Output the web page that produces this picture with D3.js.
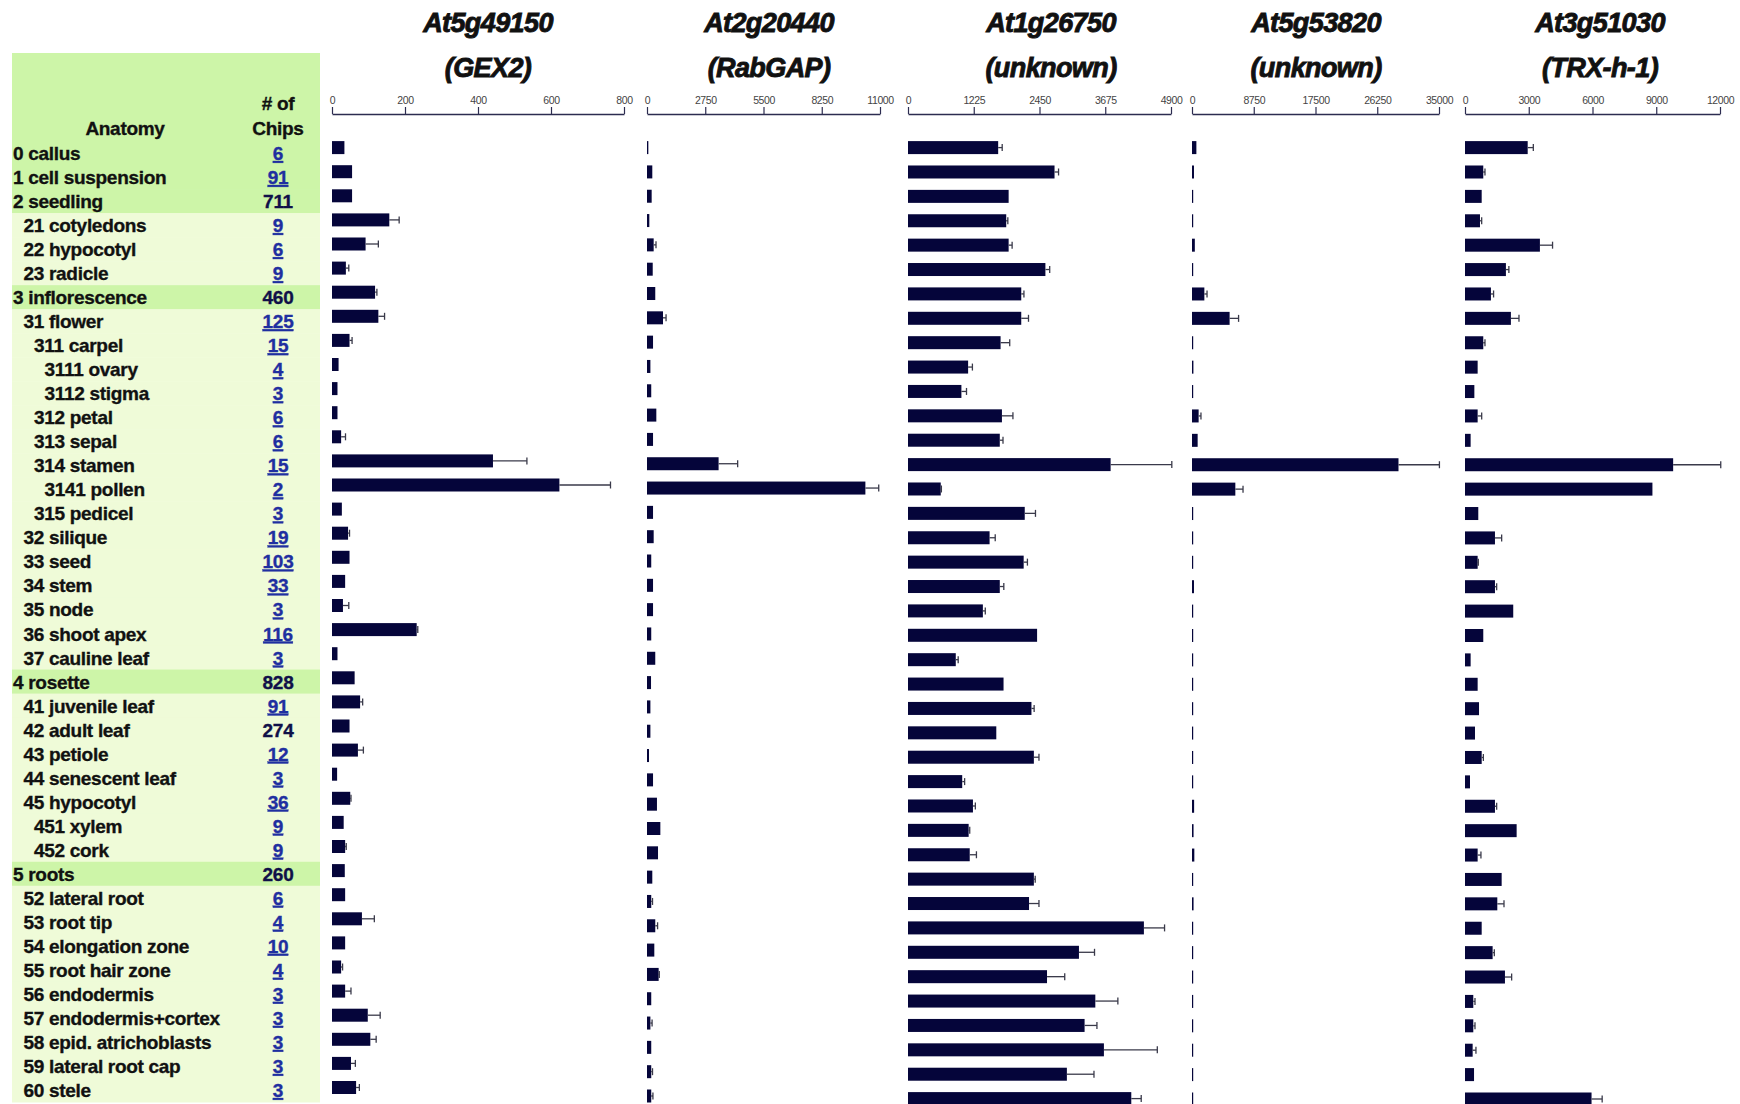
<!DOCTYPE html>
<html>
<head>
<meta charset="utf-8">
<script src="https://cdn.jsdelivr.net/npm/d3@7"></script>
<style>
  html, body { margin: 0; padding: 0; background: #fff; }
  svg { display: block; }
</style>
</head>
<body>
<svg id="chart" width="1740" height="1104"></svg>
<script>
// ---------- data ----------
const anatomy = ["0 callus","1 cell suspension","2 seedling","21 cotyledons","22 hypocotyl","23 radicle",
  "3 inflorescence","31 flower","311 carpel","3111 ovary","3112 stigma","312 petal","313 sepal","314 stamen",
  "3141 pollen","315 pedicel","32 silique","33 seed","34 stem","35 node","36 shoot apex","37 cauline leaf",
  "4 rosette","41 juvenile leaf","42 adult leaf","43 petiole","44 senescent leaf","45 hypocotyl","451 xylem",
  "452 cork","5 roots","52 lateral root","53 root tip","54 elongation zone","55 root hair zone","56 endodermis",
  "57 endodermis+cortex","58 epid. atrichoblasts","59 lateral root cap","60 stele"];
const levels = [0,0,0,1,1,1,0,1,2,3,3,2,2,2,3,2,1,1,1,1,1,1,0,1,1,1,1,1,2,2,0,1,1,1,1,1,1,1,1,1];
const chips = ["6","91","711","9","6","9","460","125","15","4","3","6","6","15","2","3","19","103","33","3",
  "116","3","828","91","274","12","3","36","9","9","260","6","4","10","4","3","3","3","3","3"];
const unlinkedChips = ["711","460","828","274","260"];

const geneIds = ["At5g49150","At2g20440","At1g26750","At5g53820","At3g51030"];
const geneNames = ["(GEX2)","(RabGAP)","(unknown)","(unknown)","(TRX-h-1)"];
const axisMax = [800, 11000, 4900, 35000, 12000];

const gex2 = [34,55,55,157,92,38,118,127,48,18,15,15,25,441,623,27,44,48,36,30,232,15,62,77,48,71,14,50,32,36,35,36,82,36,25,36,98,105,52,66];
const gex2Sd = [0,0,0,27,35,8,5,17,7,0,0,0,12,93,140,0,4,0,0,16,3,0,0,7,0,15,0,2,0,3,0,0,34,0,4,16,34,16,12,9];
const rabgap = [63,250,220,110,315,270,390,755,285,160,200,440,285,3380,10310,285,315,200,285,285,200,390,190,160,160,95,285,470,630,520,250,200,390,345,550,200,160,200,200,200];
const rabgapSd = [0,0,0,0,110,0,0,145,0,0,0,0,0,900,630,0,0,0,0,0,0,0,0,0,0,0,0,0,0,0,0,60,110,0,30,0,80,0,60,80];
const at1g26750 = [1680,2730,1875,1830,1875,2560,2110,2110,1725,1120,995,1750,1710,3775,610,2175,1520,2155,1710,1395,2405,890,1780,2300,1645,2345,1010,1210,1130,1150,2345,2255,4395,3185,2590,3490,3290,3650,2960,4160];
const at1g26750Sd = [75,75,0,30,65,80,50,135,170,80,95,205,60,1140,12,200,105,70,75,45,0,45,0,50,0,95,45,45,20,125,25,185,385,290,330,420,230,995,505,185];
const at5g53820 = [620,280,150,150,400,150,1750,5330,150,200,150,940,800,29260,6140,150,150,150,280,150,150,150,150,150,150,150,150,300,220,330,150,220,150,150,150,150,150,150,150,150];
const at5g53820Sd = [0,0,0,0,0,0,380,1270,0,0,0,330,0,5800,1090,0,0,0,0,0,0,0,0,0,0,0,0,0,0,0,0,0,0,0,0,0,0,0,0,0];
const trxh1 = [2950,860,785,705,3525,1925,1220,2160,860,595,440,595,265,9795,8820,625,1410,595,1410,2270,860,265,595,660,470,785,235,1410,2430,595,1725,1520,785,1300,1880,390,390,360,425,5955];
const trxh1Sd = [265,80,0,80,595,140,125,380,80,0,0,190,0,2240,0,0,315,30,80,0,0,0,0,0,0,80,0,80,0,155,0,315,0,80,315,80,80,155,0,500];

const seriesValues = [gex2, rabgap, at1g26750, at5g53820, trxh1];
const seriesSd = [gex2Sd, rabgapSd, at1g26750Sd, at5g53820Sd, trxh1Sd];

// ---------- layout ----------
const panelX = [[332,624],[647,880],[908,1171],[1192,1439],[1465,1720]];
const panelY = [[147.6,1087.5],[147.6,1096],[147.6,1098.6],[147.6,1099],[147.6,1099]];
const titleX = [488,769,1051,1316,1600];
const axisY = 114;
const barH = 13;
const barColor = "#05053a";
const errColor = "#3a3a4a";
const greenStrong = "#cdf5a8";
const greenPale = "#effbd8";

const svg = d3.select("#chart");
const font = "'Liberation Sans', Arial, sans-serif";

// ---------- table ----------
const tableX0 = 12, tableX1 = 320;
const rowY = d3.scalePoint().domain(d3.range(anatomy.length)).range([153, 1090]);
const rowStep = rowY.step();

const table = svg.append("g");
table.append("rect").attr("x", tableX0).attr("y", 53).attr("width", tableX1 - tableX0)
  .attr("height", rowY(0) - rowStep/2 - 53).attr("fill", greenStrong);
table.selectAll("rect.row").data(anatomy).join("rect")
  .attr("class","row")
  .attr("x", tableX0).attr("width", tableX1 - tableX0)
  .attr("y", (d,i) => rowY(i) - rowStep/2)
  .attr("height", rowStep + 0.5)
  .attr("fill", (d,i) => levels[i] === 0 ? greenStrong : greenPale);

function boldText(sel) {
  return sel.attr("font-family", font).attr("font-weight","bold").attr("font-size",19)
    .attr("letter-spacing","-0.3").attr("stroke-width",0.35);
}

boldText(table.append("text")).attr("x", 125).attr("y", 135).attr("text-anchor","middle")
  .attr("fill","#111").attr("stroke","#111").text("Anatomy");
boldText(table.append("text")).attr("x", 278).attr("y", 110).attr("text-anchor","middle")
  .attr("fill","#111").attr("stroke","#111").text("# of");
boldText(table.append("text")).attr("x", 278).attr("y", 135).attr("text-anchor","middle")
  .attr("fill","#111").attr("stroke","#111").text("Chips");

boldText(table.selectAll("text.lab").data(anatomy).join("text"))
  .attr("class","lab")
  .attr("x", (d,i) => 13 + levels[i]*10.5)
  .attr("y", (d,i) => rowY(i) + 7)
  .attr("fill","#111").attr("stroke","#111")
  .text(d => d);

boldText(table.selectAll("text.chip").data(chips).join("text"))
  .attr("class","chip")
  .attr("x", 278)
  .attr("y", (d,i) => rowY(i) + 7)
  .attr("text-anchor","middle")
  .attr("fill", d => unlinkedChips.includes(d) ? "#101048" : "#1f2fa0")
  .attr("stroke", d => unlinkedChips.includes(d) ? "#101048" : "#1f2fa0")
  .style("text-decoration", d => unlinkedChips.includes(d) ? "none" : "underline")
  .text(d => d);

// ---------- panels ----------
geneIds.forEach((gene, p) => {
  const g = svg.append("g");
  const x = d3.scaleLinear().domain([0, axisMax[p]]).range(panelX[p]);
  const y = d3.scalePoint().domain(d3.range(anatomy.length)).range(panelY[p]);
  const vals = seriesValues[p], sds = seriesSd[p];

  [[gene, 32], [geneNames[p], 77]].forEach(([txt, ty]) => {
    g.append("text").attr("x", titleX[p]).attr("y", ty).attr("text-anchor","middle")
      .attr("font-family", font).attr("font-weight","bold").attr("font-style","italic")
      .attr("font-size",27).attr("letter-spacing","-0.6")
      .attr("fill","#111").attr("stroke","#111").attr("stroke-width",0.9).text(txt);
  });

  const ticks = d3.range(0, 5).map(k => axisMax[p] * k / 4);
  const ax = g.append("g").attr("transform", `translate(0,${axisY})`)
    .call(d3.axisTop(x).tickValues(ticks).tickFormat(d3.format("d")).tickSize(7).tickSizeOuter(0).tickPadding(3));
  ax.select(".domain").attr("stroke","#2c2c50").attr("stroke-width",1.4);
  ax.selectAll(".tick line").attr("stroke","#2c2c50").attr("stroke-width",1.2);
  ax.selectAll(".tick text").attr("font-family", font).attr("font-size",10.5)
    .attr("fill","#444").attr("letter-spacing","-0.4");

  g.selectAll("rect.bar").data(vals).join("rect")
    .attr("class","bar")
    .attr("x", x(0))
    .attr("y", (d,i) => y(i) - barH/2)
    .attr("width", d => Math.max(1.2, x(d) - x(0)))
    .attr("height", barH)
    .attr("fill", barColor);

  const errs = vals.map((v,i) => ({v, sd: sds[i], i})).filter(d => d.sd > 0);
  g.selectAll("line.err").data(errs).join("line")
    .attr("class","err")
    .attr("x1", d => x(d.v)).attr("x2", d => x(d.v + d.sd))
    .attr("y1", d => y(d.i)).attr("y2", d => y(d.i))
    .attr("stroke", errColor).attr("stroke-width",1.3);
  g.selectAll("line.cap").data(errs).join("line")
    .attr("class","cap")
    .attr("x1", d => x(d.v + d.sd)).attr("x2", d => x(d.v + d.sd))
    .attr("y1", d => y(d.i) - 3.5).attr("y2", d => y(d.i) + 3.5)
    .attr("stroke", errColor).attr("stroke-width",1.3);
});
</script>
</body>
</html>
